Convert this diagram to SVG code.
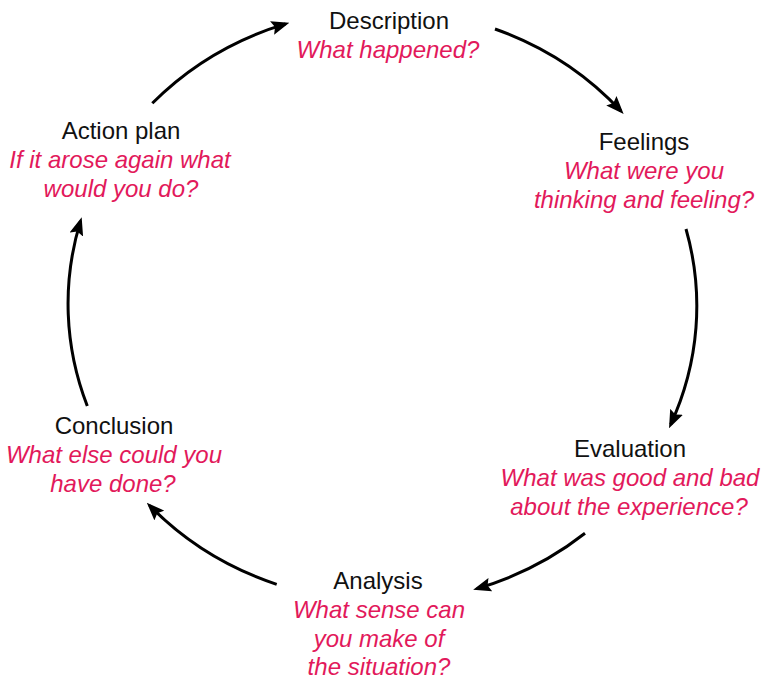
<svg xmlns="http://www.w3.org/2000/svg" width="764" height="680" viewBox="0 0 764 680">
<style>
.t{font-family:"Liberation Sans",Arial,Helvetica,sans-serif;font-size:24px;text-anchor:middle;fill:#111}
.q{font-family:"Liberation Sans",Arial,Helvetica,sans-serif;font-size:24px;font-style:italic;text-anchor:middle;fill:#E2195B}
.c{fill:none;stroke:#000;stroke-width:3}
</style>
<defs>
<marker id="ah" markerUnits="userSpaceOnUse" viewBox="0 0 18 14" markerWidth="18" markerHeight="14" refX="14" refY="7" orient="auto">
<path d="M0,0 L18,7 L0,14 L3,7 z" fill="#000"/>
</marker>
</defs>
<rect width="764" height="680" fill="#fff"/>
<g id="connectors">
<path class="c" marker-end="url(#ah)" d="M152.3,103.3 A315,297 0 0 1 285.5,23.9"/>
<path class="c" marker-end="url(#ah)" d="M495,29 A315,297 0 0 1 620.9,111.1"/>
<path class="c" marker-end="url(#ah)" d="M686,229 A315,297 0 0 1 670.7,424.5"/>
<path class="c" marker-end="url(#ah)" d="M585,533.3 A315,297 0 0 1 477,588.6"/>
<path class="c" marker-end="url(#ah)" d="M276.7,584.3 A315,297 0 0 1 149.6,505.5"/>
<path class="c" marker-end="url(#ah)" d="M87.3,406 A315,297 0 0 1 80.5,221.1"/>
</g>
<g id="description">
<text class="t" x="389" y="29">Description</text>
<text class="q" x="388" y="58">What happened?</text>
</g>
<g id="feelings">
<text class="t" x="644" y="150">Feelings</text>
<text class="q" x="644" y="179">What were you</text>
<text class="q" x="644" y="208">thinking and feeling?</text>
</g>
<g id="evaluation">
<text class="t" x="630" y="457">Evaluation</text>
<text class="q" x="630" y="486">What was good and bad</text>
<text class="q" x="629" y="515">about the experience?</text>
</g>
<g id="analysis">
<text class="t" x="378" y="589">Analysis</text>
<text class="q" x="379" y="618">What sense can</text>
<text class="q" x="379" y="647">you make of</text>
<text class="q" x="379" y="675">the situation?</text>
</g>
<g id="conclusion">
<text class="t" x="114" y="434">Conclusion</text>
<text class="q" x="114" y="463">What else could you</text>
<text class="q" x="113" y="492">have done?</text>
</g>
<g id="action-plan">
<text class="t" x="121" y="139">Action plan</text>
<text class="q" x="120" y="168">If it arose again what</text>
<text class="q" x="121" y="197">would you do?</text>
</g>
</svg>
